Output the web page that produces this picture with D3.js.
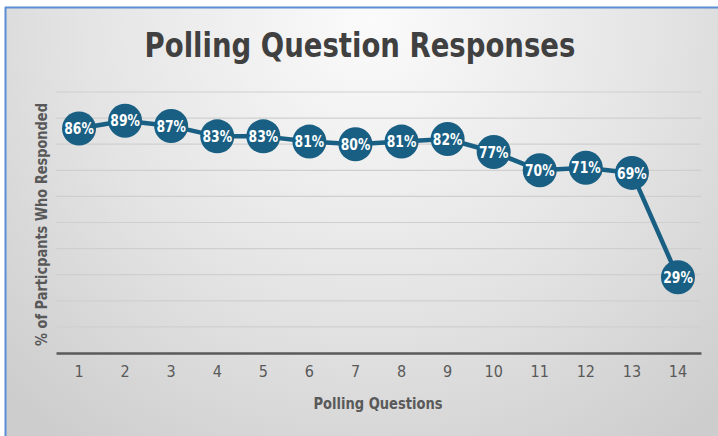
<!DOCTYPE html>
<html>
<head>
<meta charset="utf-8">
<script src="https://cdn.jsdelivr.net/npm/d3@7/dist/d3.min.js"></script>
<style>
  html, body { margin: 0; padding: 0; background: #ffffff; }
  svg { display: block; }
</style>
</head>
<body>
<svg id="chart" width="718" height="436"></svg>
<script>
// Poll data: question numbers and the share of participants who answered each
const questions = [1, 2, 3, 4, 5, 6, 7, 8, 9, 10, 11, 12, 13, 14];
const responseRates = [86, 89, 87, 83, 83, 81, 80, 81, 82, 77, 70, 71, 69, 29];
const yTicks = [0, 10, 20, 30, 40, 50, 60, 70, 80, 90, 100];

const titleText = "Polling Question Responses";
const xTitle = "Polling Questions";
const yTitle = "% of Particpants Who Responded";

const W = 718, H = 436;
const narrow = "'Liberation Sans Narrow', 'DejaVu Sans Condensed', 'Arial Narrow', sans-serif";
const navy = "#195f84";

const svg = d3.select("#chart");

// Chart frame with a soft grey radial fill
const defs = svg.append("defs");
const grad = defs.append("radialGradient")
  .attr("id", "bg")
  .attr("gradientUnits", "userSpaceOnUse")
  .attr("cx", 370).attr("cy", 20).attr("r", 520);
grad.append("stop").attr("offset", "0%").attr("stop-color", "#fbfbfb");
grad.append("stop").attr("offset", "55%").attr("stop-color", "#e4e4e4");
grad.append("stop").attr("offset", "100%").attr("stop-color", "#cdcdcd");

svg.append("rect").attr("x", 5).attr("y", 7).attr("width", W - 5).attr("height", H - 7)
  .attr("fill", "url(#bg)");
svg.append("line").attr("x1", 5).attr("x2", W).attr("y1", 7.5).attr("y2", 7.5)
  .attr("stroke", "#5b8ed4").attr("stroke-width", 2);
svg.append("line").attr("x1", 5.5).attr("x2", 5.5).attr("y1", 7).attr("y2", H)
  .attr("stroke", "#5b8ed4").attr("stroke-width", 2);

// Plot area
const plot = { left: 56, right: 701, top: 92, bottom: 353 };

const x = d3.scaleBand().domain(questions).range([plot.left, plot.right]);
const y = d3.scaleLinear().domain([0, 100]).range([plot.bottom, plot.top]);

// Horizontal gridlines
svg.append("g")
  .selectAll("line")
  .data(yTicks.filter(t => t > 0))
  .join("line")
  .attr("x1", plot.left).attr("x2", plot.right)
  .attr("y1", d => y(d)).attr("y2", d => y(d))
  .attr("stroke", "#cfcfcf").attr("stroke-width", 1.2);

// X axis: baseline and category labels
const xAxis = svg.append("g")
  .attr("transform", `translate(0,${plot.bottom})`)
  .call(d3.axisBottom(x).tickSize(0).tickPadding(13));
xAxis.select(".domain").attr("stroke", "#5a5a5a").attr("stroke-width", 2.5);
xAxis.selectAll("text")
  .attr("font-family", narrow)
  .attr("font-size", 16)
  .attr("fill", "#595959");

// Horizontally squeezed text, giving the tall narrow look of the headings
function narrowText(sel, px, py, squeeze, rotate) {
  return sel.append("text")
    .attr("transform", `translate(${px},${py})${rotate ? ` rotate(${rotate})` : ""} scale(${squeeze},1)`)
    .attr("text-anchor", "middle")
    .attr("font-family", narrow)
    .attr("font-weight", "bold");
}

narrowText(svg, 360, 57, 0.9)
  .attr("font-size", 34)
  .attr("fill", "#404040")
  .text(titleText);

narrowText(svg, 378, 409, 0.88)
  .attr("font-size", 16.5)
  .attr("fill", "#595959")
  .text(xTitle);

narrowText(svg, 47, (plot.top + plot.bottom) / 2 + 2, 0.9, -90)
  .attr("font-size", 16)
  .attr("fill", "#595959")
  .text(yTitle);

// Series line
const pts = questions.map((q, i) => ({ q, v: responseRates[i] }));
const cx = d => x(d.q) + x.bandwidth() / 2;

svg.append("path")
  .datum(pts)
  .attr("d", d3.line().x(cx).y(d => y(d.v)))
  .attr("fill", "none")
  .attr("stroke", navy)
  .attr("stroke-width", 4.5)
  .attr("stroke-linejoin", "round");

// Markers with value labels
const marks = svg.append("g").selectAll("g").data(pts).join("g")
  .attr("transform", d => `translate(${cx(d)},${y(d.v)})`);
marks.append("circle").attr("r", 17).attr("fill", navy);
marks.append("text")
  .attr("transform", "scale(0.86,1)")
  .attr("text-anchor", "middle")
  .attr("dy", "0.36em")
  .attr("font-family", narrow)
  .attr("font-weight", "bold")
  .attr("font-size", 16)
  .attr("fill", "#ffffff")
  .text(d => d.v + "%");
</script>
</body>
</html>
